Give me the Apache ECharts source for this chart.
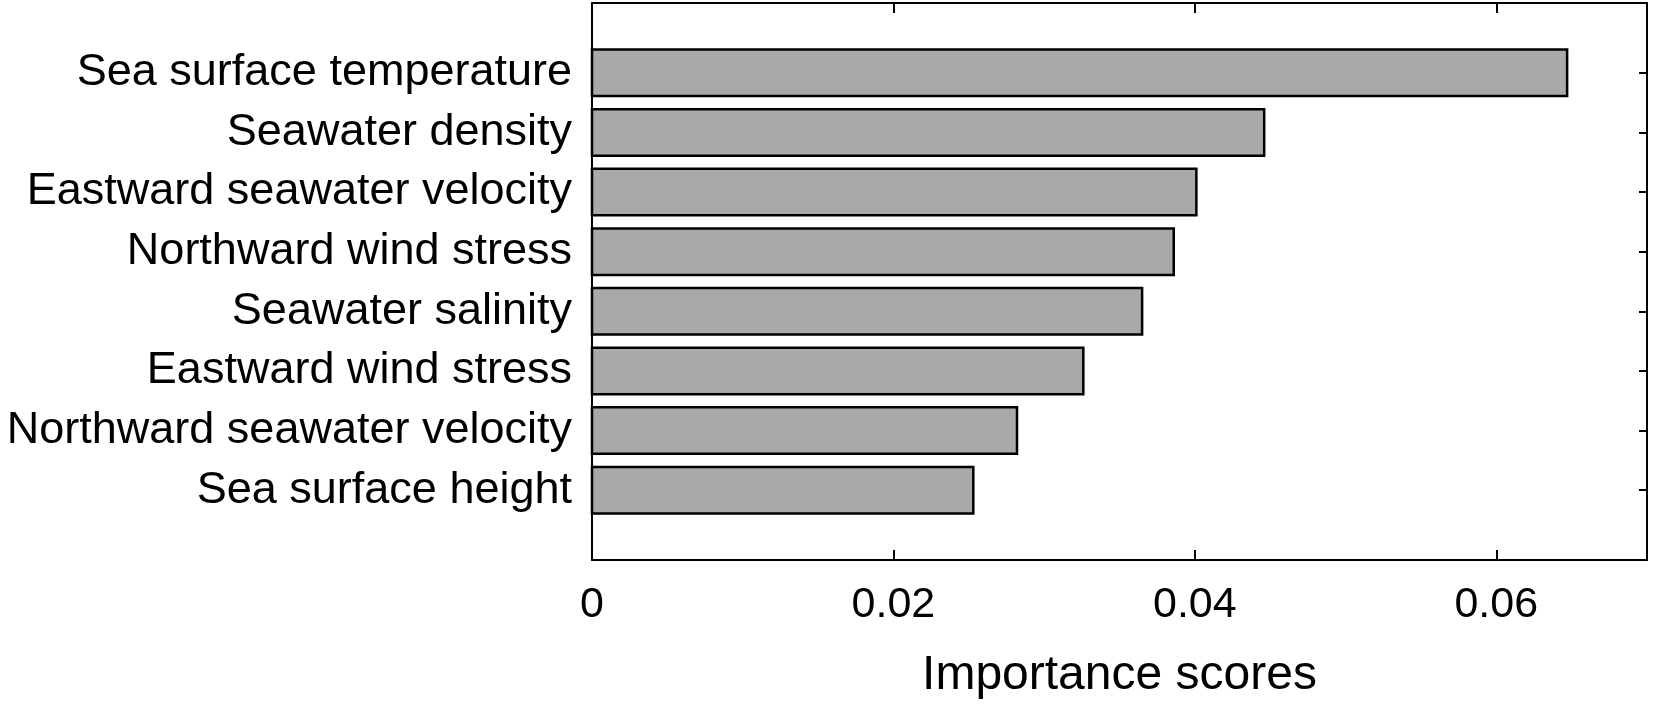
<!DOCTYPE html>
<html>
<head>
<meta charset="utf-8">
<script src="https://cdn.jsdelivr.net/npm/echarts@6/dist/echarts.min.js"></script>
<style>
  html, body { margin: 0; padding: 0; background: #fff; }
  #main { width: 1654px; height: 705px; }
</style>
</head>
<body>
<div id="main"></div>
<script>
// Datos (de arriba hacia abajo)
var categories = [
  'Sea surface temperature',
  'Seawater density',
  'Eastward seawater velocity',
  'Northward wind stress',
  'Seawater salinity',
  'Eastward wind stress',
  'Northward seawater velocity',
  'Sea surface height'
];
var scores = [0.0647, 0.0446, 0.0401, 0.0386, 0.0365, 0.0326, 0.0282, 0.0253];
var xTickLabels = [0, 0.02, 0.04, 0.06];
var xTicks = [0.02, 0.04, 0.06];

var chartDom = document.getElementById('main');
var myChart = echarts.init(chartDom);

var fontFamily = '"Liberation Sans", Arial, Helvetica, sans-serif';
var catIndex = categories.map(function (c, i) { return i; });

var seriesData = scores.map(function (v, i) { return [v, i]; });

var lineStyle = { color: '#000', width: 2 };

var option = {
  animation: false,
  backgroundColor: '#fff',
  grid: {
    left: 592,
    right: 7,
    top: 3,
    bottom: 143,
    containLabel: false
  },
  xAxis: [
    {
      type: 'value',
      position: 'bottom',
      min: 0,
      max: 0.07,
      name: 'Importance scores',
      nameLocation: 'middle',
      nameGap: 92,
      nameTextStyle: { fontSize: 48, color: '#000', fontFamily: fontFamily },
      axisLine: { show: true, onZero: false, lineStyle: lineStyle },
      axisTick: { show: true, inside: true, length: 10, customValues: xTicks, lineStyle: lineStyle },
      axisLabel: {
        show: true,
        customValues: xTickLabels,
        margin: 24,
        fontSize: 43,
        color: '#000',
        fontFamily: fontFamily,
        formatter: function (v) { return v === 0 ? '0' : v.toFixed(2); }
      },
      splitLine: { show: false }
    },
    {
      type: 'value',
      position: 'top',
      min: 0,
      max: 0.07,
      axisLine: { show: true, onZero: false, lineStyle: lineStyle },
      axisTick: { show: true, inside: true, length: 10, customValues: xTicks, lineStyle: lineStyle },
      axisLabel: { show: false },
      splitLine: { show: false }
    }
  ],
  yAxis: [
    {
      type: 'value',
      position: 'left',
      inverse: true,
      min: -1.17,
      max: 8.17,
      axisLine: { show: true, onZero: false, lineStyle: lineStyle },
      axisTick: { show: true, inside: true, length: 8, customValues: catIndex, lineStyle: lineStyle },
      axisLabel: {
        show: true,
        customValues: catIndex,
        margin: 20,
        fontSize: 45,
        color: '#000',
        fontFamily: fontFamily,
        formatter: function (v) { return categories[Math.round(v)] || ''; }
      },
      splitLine: { show: false }
    },
    {
      type: 'value',
      position: 'right',
      inverse: true,
      min: -1.17,
      max: 8.17,
      axisLine: { show: true, onZero: false, lineStyle: lineStyle },
      axisTick: { show: true, inside: true, length: 8, customValues: catIndex, lineStyle: lineStyle },
      axisLabel: { show: false },
      splitLine: { show: false }
    }
  ],
  series: [
    {
      type: 'custom',
      xAxisIndex: 0,
      yAxisIndex: 0,
      renderItem: function (params, api) {
        var idx = api.value(1);
        var start = api.coord([0, idx]);
        var end = api.coord([api.value(0), idx]);
        var h = api.size([0, 1])[1] * 0.78;
        return {
          type: 'rect',
          shape: {
            x: start[0],
            y: start[1] - h / 2,
            width: end[0] - start[0],
            height: h
          },
          style: {
            fill: '#a9a9a9',
            stroke: '#000',
            lineWidth: 2.5
          }
        };
      },
      encode: { x: 0, y: 1 },
      data: seriesData,
      z: 2
    }
  ]
};

myChart.setOption(option);
</script>
</body>
</html>
